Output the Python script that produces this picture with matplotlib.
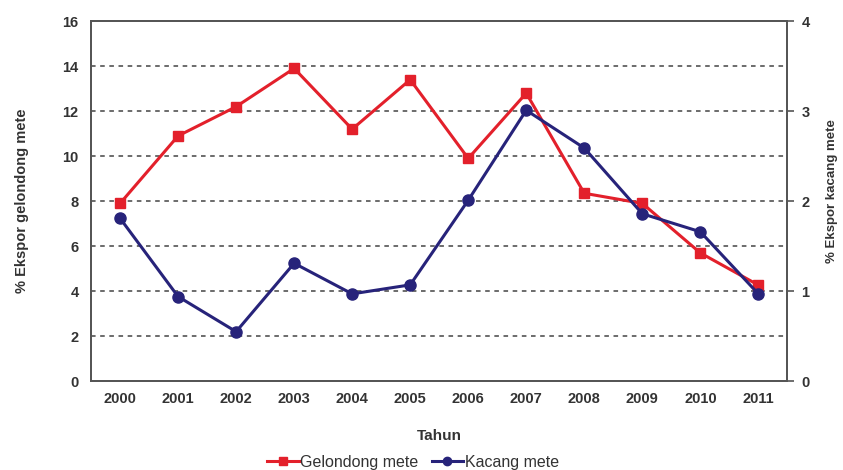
import numpy as np
import matplotlib.pyplot as plt
from matplotlib.lines import Line2D

plt.rcParams['font.family'] = ['Liberation Sans', 'DejaVu Sans']

tahun = ['2000', '2001', '2002', '2003', '2004', '2005',
         '2006', '2007', '2008', '2009', '2010', '2011']
gelondong = [7.9, 10.9, 12.2, 13.9, 11.2, 13.4, 9.9, 12.8, 8.35, 7.9, 5.7, 4.27]
kacang = [1.81, 0.94, 0.55, 1.31, 0.97, 1.07, 2.01, 3.01, 2.59, 1.86, 1.66, 0.97]

merah = '#e3202b'
biru = '#27237a'
abu = '#555555'

fig = plt.figure(figsize=(8.43, 4.70), dpi=100)
ax = fig.add_axes([0.108, 0.189, 0.826, 0.766])
ax2 = ax.twinx()

x = np.arange(len(tahun))
ax.plot(x, gelondong, color=merah, lw=2.2, marker='s', ms=7, zorder=3)
ax2.plot(x, kacang, color=biru, lw=2.2, marker='o', ms=8, zorder=3)

ax.set_xlim(-0.5, len(tahun) - 0.5)
ax.set_ylim(0, 16)
ax2.set_ylim(0, 4)
ax.set_yticks(np.arange(0, 17, 2))
ax2.set_yticks(np.arange(0, 5, 1))
ax.set_xticks(x)
ax.set_xticklabels(tahun)

for y in np.arange(2, 16, 2):
    ax.axhline(y, color='#444444', lw=1.1, ls=(0, (3, 3)), zorder=1)

for a in (ax, ax2):
    for s in a.spines.values():
        s.set_color(abu)
        s.set_linewidth(1.3)
    a.tick_params(labelsize=10.5, colors=abu, labelcolor='#333333')
    for lab in a.get_yticklabels() + a.get_xticklabels():
        lab.set_fontweight('bold')
ax.tick_params(axis='y', length=0, pad=9)
ax.tick_params(axis='x', length=0, pad=8)
ax2.tick_params(axis='y', length=5, width=1.2, direction='out', pad=5)

ax.set_ylabel('% Ekspor gelondong mete', fontsize=10.5, fontweight='bold',
              color='#333333', labelpad=24)
ax2.set_ylabel('% Ekspor kacang mete', fontsize=9.5, fontweight='bold',
               color='#333333')
ax2.yaxis.set_label_coords(1.056, 0.528)
ax.set_xlabel('Tahun', fontsize=11, fontweight='bold', color='#333333',
              labelpad=16)

handles = [Line2D([], [], color=merah, lw=2.2, marker='s', ms=6),
           Line2D([], [], color=biru, lw=2.2, marker='o', ms=6)]
fig.legend(handles, ['Gelondong mete', 'Kacang mete'], loc='center',
           bbox_to_anchor=(0.49, 0.017), ncol=2, frameon=False,
           fontsize=11.5, handlelength=2.0, handletextpad=0.1,
           columnspacing=0.8, labelcolor='#333333')

fig.savefig('out.png', dpi=100)
